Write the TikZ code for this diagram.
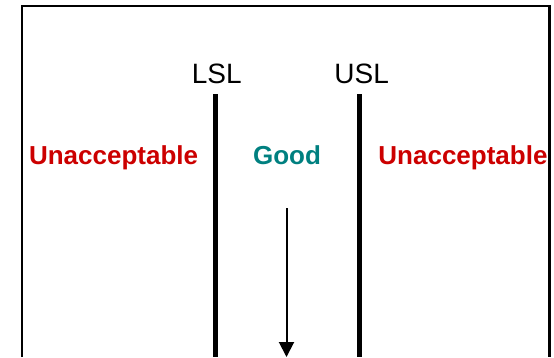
\documentclass[tikz,border=0pt]{standalone}
\usepackage{fontspec}
\setmainfont{Liberation Sans}
\usetikzlibrary{arrows.meta}
\definecolor{badred}{RGB}{204,0,0}
\definecolor{goodteal}{RGB}{0,128,128}
\tikzset{
  frameline/.style={line width=2.4pt,draw=black},
  limitline/.style={line width=5pt,draw=black},
  limitlabel/.style={anchor=base,inner sep=0pt,font=\fontsize{28}{30}\selectfont},
  zonelabel/.style={anchor=base,inner sep=0pt,font=\fontsize{26}{28}\selectfont\bfseries},
  shiftarrow/.style={line width=2pt,-{Triangle[width=15pt,length=15pt]}}
}
\begin{document}
\begin{tikzpicture}[x=1pt,y=1pt]
\useasboundingbox (0,0) rectangle (554,357);
% frame (open at bottom)
\coordinate (fbl) at (22,0);
\coordinate (ftl) at (22,351);
\coordinate (ftr) at (549.5,351);
\coordinate (fbr) at (549.5,0);
\draw[frameline] (fbl) -- (ftl) -- (ftr) -- (fbr);
% limit lines
\coordinate (lsltop) at (215,263);
\coordinate (lslbot) at (215,0);
\coordinate (usltop) at (359.5,263);
\coordinate (uslbot) at (359.5,0);
\draw[limitline] (lsltop) -- (lslbot);
\draw[limitline] (usltop) -- (uslbot);
% labels
\node[limitlabel] (lsl) at (216.7,274) {LSL};
\node[limitlabel] (usl) at (361.7,274) {USL};
\node[zonelabel,text=badred] (unacc1) at (113.6,193) {Unacceptable};
\node[zonelabel,text=goodteal] (good) at (287,193) {Good};
\node[zonelabel,text=badred] (unacc2) at (463,193) {Unacceptable};
% arrow
\coordinate (astart) at (286.5,149);
\coordinate (aend) at (286.5,0);
\draw[shiftarrow] (astart) -- (aend);
\end{tikzpicture}
\end{document}
